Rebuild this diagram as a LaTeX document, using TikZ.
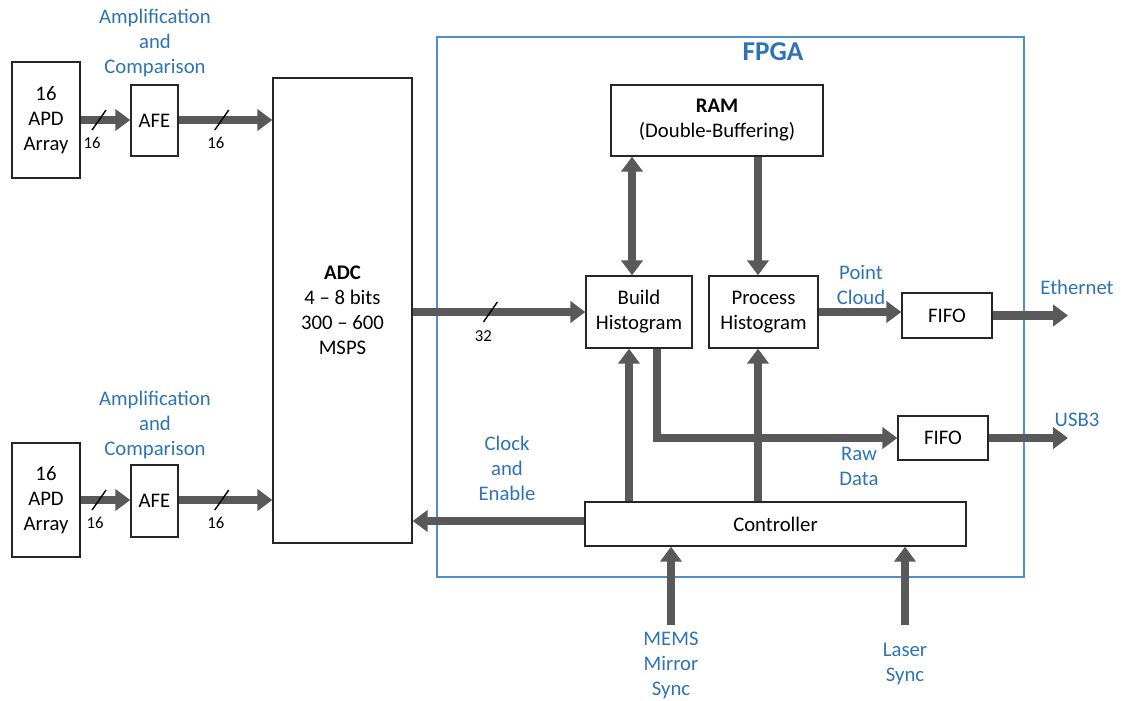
\documentclass[tikz,border=0pt]{standalone}
\usepackage{fontspec}
\setmainfont{Carlito}
\usetikzlibrary{arrows.meta,positioning}
\definecolor{busgray}{HTML}{595959}
\definecolor{noteblue}{HTML}{2E74B5}
\definecolor{frameblue}{HTML}{4F8FCC}
\def\pu{0.02cm}
\tikzset{
  block/.style={draw=black!85, line width=0.8pt, fill=white, align=center, inner sep=0pt},
  bus/.style={draw=busgray, line width=4.6pt, -{Triangle[width=12pt,length=8.5pt]}},
  busboth/.style={bus, {Triangle[width=12pt,length=8.5pt]}-{Triangle[width=12pt,length=8.5pt]}},
  note/.style={text=noteblue, align=center},
  tag/.style={font=\fontsize{9.5}{11}\selectfont},
  slash/.style={draw=black, line width=0.8pt}
}
\begin{document}
\begin{tikzpicture}[x=\pu, y=-\pu, font=\fontsize{11.8}{14.2}\selectfont, line join=miter]
  \useasboundingbox (0,0) rectangle (1121,700);
  % frame
  \node[draw=frameblue, line width=0.8pt, minimum width={587*\pu}, minimum height={540*\pu}, inner sep=0pt] (fpga) at (730.5,307) {};
  \node[text=noteblue, font=\fontsize{15.5}{18}\selectfont\bfseries] (fpgatitle) at (773,52) {FPGA};
  % blocks
  \node[block, minimum width={68*\pu}, minimum height={116*\pu}] (apd1) at (46,120) {16\\APD\\Array};
  \node[block, minimum width={47*\pu}, minimum height={71*\pu}] (afe1) at (154.5,120.5) {AFE};
  \node[block, minimum width={68*\pu}, minimum height={114*\pu}] (apd2) at (46,500) {16\\APD\\Array};
  \node[block, minimum width={47*\pu}, minimum height={72*\pu}] (afe2) at (154.5,501) {AFE};
  \node[block, minimum width={139*\pu}, minimum height={465*\pu}] (adc) at (342.5,310.5) {\textbf{ADC}\\4 -- 8 bits\\300 -- 600\\MSPS};
  \node[block, minimum width={212*\pu}, minimum height={71*\pu}] (ram) at (717,120.5) {\textbf{RAM}\\(Double-Buffering)};
  \node[block, minimum width={106*\pu}, minimum height={72*\pu}] (build) at (639,312) {Build\\Histogram};
  \node[block, minimum width={109*\pu}, minimum height={72*\pu}] (proc) at (763.5,312) {Process\\Histogram};
  \node[block, minimum width={90*\pu}, minimum height={45*\pu}] (fifo1) at (947,315.5) {FIFO};
  \node[block, minimum width={90*\pu}, minimum height={44*\pu}] (fifo2) at (943,438) {FIFO};
  \node[block, minimum width={381*\pu}, minimum height={44*\pu}] (ctrl) at (775.5,524) {Controller};
  % free ends
  \coordinate (eth) at (1068,315.5);
  \coordinate (usb) at (1068,438);
  \coordinate (mems) at (671,625);
  \coordinate (laser) at (905,625);
  % buses
  \draw[bus] (apd1.east |- 0,120) -- (afe1.west |- 0,120) coordinate[pos=0.37] (s1);
  \draw[bus] (afe1.east |- 0,120) -- (adc.west |- 0,120) coordinate[pos=0.46] (s2);
  \draw[bus] (apd2.east |- 0,500) -- (afe2.west |- 0,500) coordinate[pos=0.37] (s3);
  \draw[bus] (afe2.east |- 0,500) -- (adc.west |- 0,500) coordinate[pos=0.46] (s4);
  \draw[bus] (adc.east |- build.west) -- (build.west) coordinate[pos=0.45] (s5);
  \draw[busboth] ([xshift={-7*\pu}]build.north |- ram.south) -- ([xshift={-7*\pu}]build.north);
  \draw[bus] ([xshift={-5.5*\pu}]proc.north |- ram.south) -- ([xshift={-5.5*\pu}]proc.north);
  \draw[bus] (proc.east) -- (proc.east -| fifo1.west);
  \draw[bus] (fifo1.east) -- (eth);
  \draw[bus] ([xshift={18*\pu}]build.south) |- (fifo2.west);
  \draw[bus] (fifo2.east) -- (usb);
  \draw[bus] ([xshift={-10*\pu}]build.south |- ctrl.north) -- ([xshift={-10*\pu}]build.south);
  \draw[bus] ([xshift={-5.5*\pu}]proc.south |- ctrl.north) -- ([xshift={-5.5*\pu}]proc.south);
  \draw[bus] (ctrl.west |- 0,521) -- (adc.east |- 0,521);
  \draw[bus] (mems) -- (mems |- ctrl.south);
  \draw[bus] (laser) -- (laser |- ctrl.south);
  % width marks
  \foreach \s in {s1,s2,s3,s4,s5}
    \draw[slash] ([shift={(-7,10)}]\s) -- ([shift={(7,-10)}]\s);
  \node[tag] (w1) at ([shift={(-7,23)}]s1) {16};
  \node[tag] (w2) at ([shift={(-6,23)}]s2) {16};
  \node[tag] (w3) at ([shift={(-4,23)}]s3) {16};
  \node[tag] (w4) at ([shift={(-6,23)}]s4) {16};
  \node[tag] (w5) at ([shift={(-7,24)}]s5) {32};
  % labels
  \node[note] (amp1) at (155,43) {Amplification\\and\\Comparison};
  \node[note] (amp2) at (155,425) {Amplification\\and\\Comparison};
  \node[note] (cloud) at (861,285) {Point\\Cloud};
  \node[note] (ethlabel) at (1077,287) {Ethernet};
  \node[note] (usblabel) at (1077,420) {USB3};
  \node[note] (raw) at (859,466) {Raw\\Data};
  \node[note] (clock) at (507,468) {Clock\\and\\Enable};
  \node[note] (memslabel) at (671,665) {MEMS\\Mirror\\Sync};
  \node[note] (laserlabel) at (905,664) {Laser\\Sync};
\end{tikzpicture}
\end{document}
